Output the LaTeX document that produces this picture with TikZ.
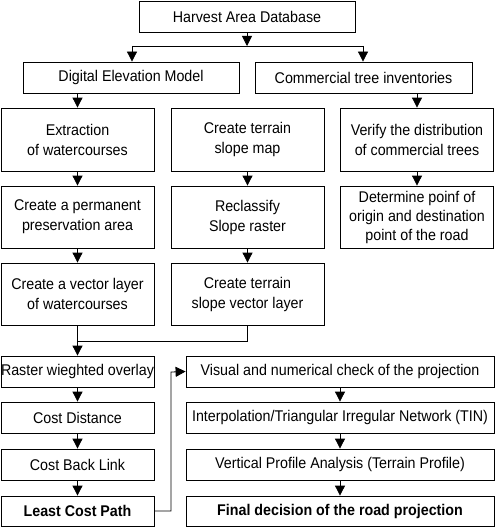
\documentclass[tikz,border=0pt]{standalone}
\usepackage{fontspec}
\setmainfont[FakeStretch=0.92]{Liberation Sans}
\usetikzlibrary{arrows.meta}
\begin{document}
\begin{tikzpicture}[x=1pt,y=-1pt,
  box/.style={draw, line width=0.8pt, inner sep=0pt, align=center, font=\fontsize{15.5}{20}\selectfont},
  arr/.style={line width=0.8pt, -{Triangle[width=10pt,length=10pt]}},
  ln/.style={line width=0.8pt}]
\useasboundingbox (0,0) rectangle (495,527);
% row 0
\node[box, minimum width=216pt, minimum height=31pt] (H) at (247,16.5) {Harvest Area Database};
\node[box, minimum width=216pt, minimum height=31pt] (DEM) at (131,77.5) {Digital Elevation Model};
\node[box, minimum width=217pt, minimum height=31pt] (CT) at (363.5,77.5) {Commercial tree inventories};
% column boxes
\node[box, minimum width=153pt, minimum height=63pt] (E) at (77.5,139.5) {Extraction\\of watercourses};
\node[box, minimum width=153pt, minimum height=63pt] (S) at (247.5,139.5) {Create terrain\\slope map};
\node[box, minimum width=153pt, minimum height=63pt] (V) at (417,139.5) {Verify the distribution\\of commercial trees};
\node[box, minimum width=153pt, minimum height=62pt] (P) at (77.5,217) {Create a permanent\\preservation area};
\node[box, minimum width=153pt, minimum height=62pt] (R) at (247.5,217) {Reclassify\\Slope raster};
\node[box, minimum width=153pt, minimum height=62pt, font=\fontsize{15.5}{19}\selectfont] (D) at (417,217) {Determine poinf of\\origin and destination\\point of the road};
\node[box, minimum width=153pt, minimum height=62pt] (W) at (77.5,294) {Create a vector layer\\of watercourses};
\node[box, minimum width=153pt, minimum height=62pt] (T) at (247.5,294) {Create terrain\\slope vector layer};
% bottom left
\node[box, minimum width=153pt, minimum height=31pt] (RW) at (77.5,371.5) {Raster wieghted overlay};
\node[box, minimum width=153pt, minimum height=31pt] (CD) at (77.5,417.5) {Cost Distance};
\node[box, minimum width=153pt, minimum height=31pt] (CB) at (77.5,464.5) {Cost Back Link};
\node[box, minimum width=153pt, minimum height=30pt, font=\fontsize{15.5}{20}\selectfont\bfseries] (L) at (77.5,511) {Least Cost Path};
% bottom right
\node[box, minimum width=308pt, minimum height=31pt] (VN) at (340,371.5) {Visual and numerical check of the projection};
\node[box, minimum width=308pt, minimum height=31pt] (I) at (340,417.5) {Interpolation/Triangular Irregular Network (TIN)};
\node[box, minimum width=308pt, minimum height=31pt] (VP) at (340,464.5) {Vertical Profile Analysis (Terrain Profile)};
\node[box, minimum width=308pt, minimum height=30pt, font=\fontsize{15.5}{20}\selectfont\bfseries] (F) at (340,511) {Final decision of the road projection};
% connectors
\coordinate (j1) at (247,46);
\coordinate (jl) at (132,46);
\coordinate (jr) at (363,46);
\draw[arr] (H.south) -- (j1);
\draw[ln] (jl) -- (jr);
\draw[arr] (jl) -- (jl |- DEM.north);
\draw[arr] (jr) -- (jr |- CT.north);
\draw[arr] (DEM.south -| E.north) -- (E.north);
\draw[arr] (CT.south -| V.north) -- (V.north);
\draw[arr] (E) -- (P);
\draw[arr] (S) -- (R);
\draw[arr] (V) -- (D);
\draw[arr] (P) -- (W);
\draw[arr] (R) -- (T);
\coordinate (m1) at (77.5,341);
\draw[ln] (W.south) -- (m1) -| (T.south);
\draw[arr] (m1) -- (RW.north);
\draw[arr] (RW) -- (CD);
\draw[arr] (CD) -- (CB);
\draw[arr] (CB) -- (L);
\draw[arr] (VN) -- (I);
\draw[arr] (I) -- (VP);
\draw[arr] (VP) -- (F);
\coordinate (b1) at (171,511);
\coordinate (b2) at (171,372);
\draw[arr] (L.east) -- (b1) -- (b2) -- (VN.west);
\end{tikzpicture}
\end{document}
